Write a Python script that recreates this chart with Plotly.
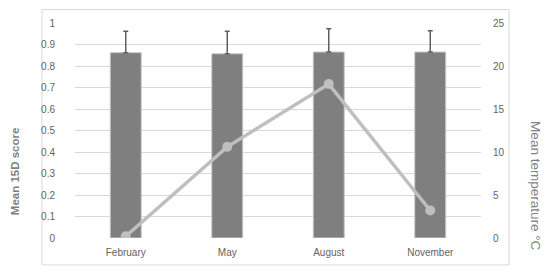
import plotly.graph_objects as go

months = ["February", "May", "August", "November"]
score_15d = [0.862, 0.857, 0.865, 0.865]
score_err = [0.100, 0.105, 0.108, 0.099]
temperature = [0.2, 10.6, 17.9, 3.2]
left_ticks = [0, 0.1, 0.2, 0.3, 0.4, 0.5, 0.6, 0.7, 0.8, 0.9, 1]
left_tick_text = ["0", "0.1", "0.2", "0.3", "0.4", "0.5", "0.6", "0.7", "0.8", "0.9", "1"]
right_ticks = [0, 5, 10, 15, 20, 25]

FONT = "Liberation Sans, Arial, sans-serif"
TICK_COLOR = "#636363"
GRID = "#d9d9d9"

fig = go.Figure()
fig.add_trace(go.Bar(
    x=months, y=score_15d,
    marker=dict(color="#7f7f7f", line=dict(color="#c8c8c8", width=1)),
    error_y=dict(type="data", array=score_err, arrayminus=[0]*4, symmetric=False,
                 color="#606060", thickness=1.5, width=2.5),
    yaxis="y", showlegend=False,
))
fig.add_trace(go.Scatter(
    x=months, y=temperature, mode="lines+markers",
    line=dict(color="#bfbfbf", width=3.5),
    marker=dict(color="#bfbfbf", size=10),
    yaxis="y2", showlegend=False,
))

fig.update_layout(
    width=550, height=276,
    margin=dict(l=75, r=69, t=22.5, b=38),
    paper_bgcolor="white", plot_bgcolor="white",
    bargap=0.695,
    font=dict(family=FONT, color=TICK_COLOR, size=10),
    xaxis=dict(showgrid=False, showline=False, zeroline=False, ticks="",
               automargin=False,
               tickfont=dict(size=10, color=TICK_COLOR), ticklabelstandoff=7),
    yaxis=dict(range=[0, 1], tickvals=left_ticks, ticktext=left_tick_text,
               showgrid=True, gridcolor=GRID, gridwidth=1, zeroline=False,
               automargin=False,
               showline=False, ticks="", ticklabelstandoff=19,
               tickfont=dict(size=10, color=TICK_COLOR)),
    yaxis2=dict(range=[0, 25], tickvals=right_ticks, overlaying="y", side="right",
                showgrid=False, zeroline=False, showline=False, ticks="",
                automargin=False,
                ticklabelstandoff=11, tickfont=dict(size=10, color=TICK_COLOR)),
    shapes=[dict(type="rect", xref="paper", yref="paper",
                 x0=(42-75)/406, x1=(509-75)/406,
                 y0=(238-265)/215.5, y1=(238-9)/215.5,
                 line=dict(color=GRID, width=1), layer="below")],
    annotations=[
        dict(text="<b>Mean 15D score</b>", xref="paper", yref="paper",
             x=(15-75)/406, y=(238-171)/215.5, textangle=-90, showarrow=False,
             font=dict(size=11.5, color="#7f7f7f", family=FONT),
             xanchor="center", yanchor="middle"),
        dict(text="Mean temperature °C", xref="paper", yref="paper",
             x=(536-75)/406, y=(238-185)/215.5, textangle=90, showarrow=False,
             font=dict(size=13.5, color="#7f7f7f", family=FONT),
             xanchor="center", yanchor="middle"),
    ],
)

fig.write_html("out.html", config={"displayModeBar": False},
               post_script="document.body.style.margin='0';document.body.style.padding='0';")
